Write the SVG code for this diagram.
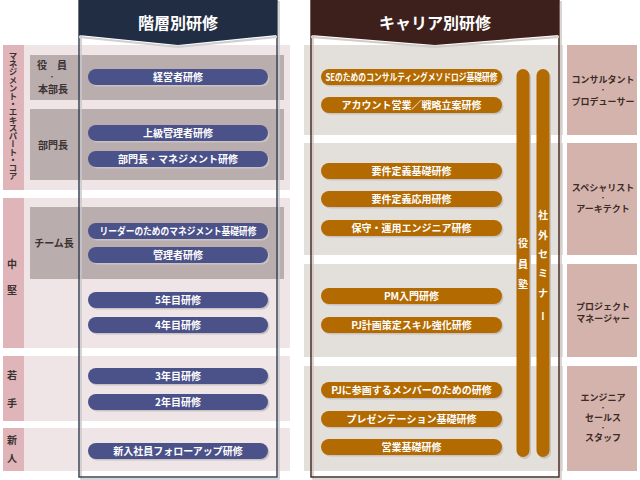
<svg xmlns="http://www.w3.org/2000/svg" width="640" height="480" viewBox="0 0 640 480">
<style>
text{font-family:"Noto Sans CJK JP","Noto Sans",sans-serif;font-weight:bold}
.lband{fill:#efe5e6}
.ltab{fill:#e0b5b9}
.inner{fill:#b9adad}
.rband{fill:#e3dfda}
.rlab{fill:#d4b3ad}
.np{fill:#4b5189}
.op{fill:#b36a00}
.sh{fill:#c9c3c3}
.pt{fill:#ffffff;font-size:10px;text-anchor:middle}
.lt{fill:#3b3232;font-size:10px;text-anchor:middle}
.rt{fill:#3d2b26;font-size:9px;text-anchor:middle}
.dot{font-size:6px}
.ht{fill:#ffffff;font-size:16px;text-anchor:middle}
</style>
<rect width="640" height="480" fill="#ffffff"/>
<g id="left-bands">
<rect class="lband" x="3" y="45" width="287" height="145"/>
<rect class="ltab" x="3" y="45" width="21" height="145"/>
<rect class="lband" x="3" y="198" width="287" height="150"/>
<rect class="ltab" x="3" y="198" width="21" height="150"/>
<rect class="lband" x="3" y="356" width="287" height="65"/>
<rect class="ltab" x="3" y="356" width="21" height="65"/>
<rect class="lband" x="3" y="428" width="287" height="43"/>
<rect class="ltab" x="3" y="428" width="21" height="43"/>
<rect class="inner" x="30" y="55" width="254" height="45"/>
<rect class="inner" x="30" y="109" width="254" height="71"/>
<rect class="inner" x="30" y="207" width="254" height="72"/>
</g>
<g id="right-bands">
<rect class="rband" x="304" y="45" width="259" height="90"/>
<rect class="rlab" x="567" y="45" width="70" height="90"/>
<rect class="rband" x="304" y="143" width="259" height="112"/>
<rect class="rlab" x="567" y="143" width="70" height="112"/>
<rect class="rband" x="304" y="264" width="259" height="93"/>
<rect class="rlab" x="567" y="264" width="70" height="93"/>
<rect class="rband" x="304" y="366" width="259" height="105"/>
<rect class="rlab" x="567" y="366" width="70" height="105"/>
</g>
<g id="frames">
<rect x="81" y="2" width="198" height="477" fill="none" stroke="#c8c8cc" stroke-width="1.5"/>
<rect x="79" y="0" width="198" height="477" fill="none" stroke="#3c4656" stroke-width="1.5"/>
<rect x="313" y="2" width="248" height="477" fill="none" stroke="#cfc9c6" stroke-width="1.5"/>
<rect x="311" y="0" width="248" height="477" fill="none" stroke="#4a2c27" stroke-width="1.5"/>
</g>
<g id="header-left">
<path d="M79,37 L178,47 L277,37" fill="none" stroke="#d0d0d4" stroke-width="2"/>
<path d="M79,0 H277 V35 L178,45 L79,35 Z" fill="#212d42"/>
<text class="ht" x="178" y="29">階層別研修</text>
</g>
<g id="header-right">
<path d="M311,37 L435,47 L559,37" fill="none" stroke="#d2ccc8" stroke-width="2"/>
<path d="M311,0 H559 V35 L435,45 L311,35 Z" fill="#3d201b"/>
<text class="ht" x="435" y="29">キャリア別研修</text>
</g>
<g id="level-labels">
<text style="fill:#3b3232;font-size:8.5px;writing-mode:tb" x="13" y="52" textLength="128" lengthAdjust="spacing">マネジメント・エキスパート・コア</text>
<text class="lt" x="12" y="268">中</text>
<text class="lt" x="12" y="294">堅</text>
<text class="lt" x="12" y="379">若</text>
<text class="lt" x="12" y="407">手</text>
<text class="lt" x="12" y="444">新</text>
<text class="lt" x="12" y="462">人</text>
<text class="lt" x="52" y="69">役　員</text>
<text class="lt dot" x="52" y="79">・</text>
<text class="lt" x="53" y="93">本部長</text>
<text class="lt" x="53" y="149">部門長</text>
<text class="lt" x="54" y="247">チーム長</text>
</g>
<g id="left-pills">
<g id="n-keiei"><rect class="sh" x="89.5" y="70.5" width="180" height="16" rx="8"/><rect class="np" x="88" y="69" width="180" height="16" rx="8"/><text class="pt" x="178" y="80.5">経営者研修</text></g>
<g id="n-joukyu"><rect class="sh" x="89.5" y="126.5" width="180" height="16" rx="8"/><rect class="np" x="88" y="125" width="180" height="16" rx="8"/><text class="pt" x="178" y="136.5">上級管理者研修</text></g>
<g id="n-bumon"><rect class="sh" x="89.5" y="152.5" width="180" height="16" rx="8"/><rect class="np" x="88" y="151" width="180" height="16" rx="8"/><text class="pt" x="178" y="162.5">部門長・マネジメント研修</text></g>
<g id="n-leader"><rect class="sh" x="89.5" y="224.5" width="180" height="16" rx="8"/><rect class="np" x="88" y="223" width="180" height="16" rx="8"/><text class="pt" x="178" y="234.5" textLength="157" lengthAdjust="spacingAndGlyphs">リーダーのためのマネジメント基礎研修</text></g>
<g id="n-kanri"><rect class="sh" x="89.5" y="248.5" width="180" height="16" rx="8"/><rect class="np" x="88" y="247" width="180" height="16" rx="8"/><text class="pt" x="178" y="258.5">管理者研修</text></g>
<g id="n-5nen"><rect class="sh" x="89.5" y="293.5" width="180" height="16" rx="8"/><rect class="np" x="88" y="292" width="180" height="16" rx="8"/><text class="pt" x="178" y="303.5">5年目研修</text></g>
<g id="n-4nen"><rect class="sh" x="89.5" y="318.5" width="180" height="16" rx="8"/><rect class="np" x="88" y="317" width="180" height="16" rx="8"/><text class="pt" x="178" y="328.5">4年目研修</text></g>
<g id="n-3nen"><rect class="sh" x="89.5" y="369.5" width="180" height="16" rx="8"/><rect class="np" x="88" y="368" width="180" height="16" rx="8"/><text class="pt" x="178" y="379.5">3年目研修</text></g>
<g id="n-2nen"><rect class="sh" x="89.5" y="395.5" width="180" height="16" rx="8"/><rect class="np" x="88" y="394" width="180" height="16" rx="8"/><text class="pt" x="178" y="405.5">2年目研修</text></g>
<g id="n-shinnyu"><rect class="sh" x="89.5" y="444.5" width="180" height="16" rx="8"/><rect class="np" x="88" y="443" width="180" height="16" rx="8"/><text class="pt" x="178" y="454.5">新入社員フォローアップ研修</text></g>
</g>
<g id="right-pills">
<g id="n-se"><rect class="sh" x="322.5" y="70.5" width="181" height="16" rx="8"/><rect class="op" x="321" y="69" width="181" height="16" rx="8"/><text class="pt" x="411.5" y="80.5" textLength="172" lengthAdjust="spacingAndGlyphs">SEのためのコンサルティングメソドロジ基礎研修</text></g>
<g id="n-account"><rect class="sh" x="322.5" y="98.5" width="181" height="16" rx="8"/><rect class="op" x="321" y="97" width="181" height="16" rx="8"/><text class="pt" x="411.5" y="108.5">アカウント営業／戦略立案研修</text></g>
<g id="n-youken1"><rect class="sh" x="322.5" y="164.5" width="181" height="16" rx="8"/><rect class="op" x="321" y="163" width="181" height="16" rx="8"/><text class="pt" x="411.5" y="174.5">要件定義基礎研修</text></g>
<g id="n-youken2"><rect class="sh" x="322.5" y="192.5" width="181" height="16" rx="8"/><rect class="op" x="321" y="191" width="181" height="16" rx="8"/><text class="pt" x="411.5" y="202.5">要件定義応用研修</text></g>
<g id="n-hoshu"><rect class="sh" x="322.5" y="221.5" width="181" height="16" rx="8"/><rect class="op" x="321" y="220" width="181" height="16" rx="8"/><text class="pt" x="411.5" y="231.5">保守・運用エンジニア研修</text></g>
<g id="n-pm"><rect class="sh" x="322.5" y="289.5" width="181" height="16" rx="8"/><rect class="op" x="321" y="288" width="181" height="16" rx="8"/><text class="pt" x="411.5" y="299.5">PM入門研修</text></g>
<g id="n-pj"><rect class="sh" x="322.5" y="318.5" width="181" height="16" rx="8"/><rect class="op" x="321" y="317" width="181" height="16" rx="8"/><text class="pt" x="411.5" y="328.5">PJ計画策定スキル強化研修</text></g>
<g id="n-pjmember"><rect class="sh" x="322.5" y="383.5" width="181" height="16" rx="8"/><rect class="op" x="321" y="382" width="181" height="16" rx="8"/><text class="pt" x="411.5" y="393.5">PJに参画するメンバーのための研修</text></g>
<g id="n-presen"><rect class="sh" x="322.5" y="412.5" width="181" height="16" rx="8"/><rect class="op" x="321" y="411" width="181" height="16" rx="8"/><text class="pt" x="411.5" y="422.5">プレゼンテーション基礎研修</text></g>
<g id="n-eigyo"><rect class="sh" x="322.5" y="440.5" width="181" height="16" rx="8"/><rect class="op" x="321" y="439" width="181" height="16" rx="8"/><text class="pt" x="411.5" y="450.5">営業基礎研修</text></g>
</g>
<g id="n-yakuinjuku">
<rect class="sh" x="518" y="71" width="13" height="388" rx="6.5"/>
<rect class="op" x="516.5" y="69" width="13" height="388" rx="6.5"/>
<text class="pt" x="523" y="247">役</text>
<text class="pt" x="523" y="268">員</text>
<text class="pt" x="523" y="288">塾</text>
</g>
<g id="n-seminar">
<rect class="sh" x="538" y="71" width="13" height="388" rx="6.5"/>
<rect class="op" x="536.5" y="69" width="13" height="388" rx="6.5"/>
<text class="pt" x="543" y="219">社</text>
<text class="pt" x="543" y="239">外</text>
<text class="pt" x="543" y="258">セ</text>
<text class="pt" x="543" y="277">ミ</text>
<text class="pt" x="543" y="297">ナ</text>
<text class="pt" x="543" y="316" style="writing-mode:tb">ー</text>
</g>
<g id="career-labels">
<text class="rt" x="603" y="83">コンサルタント</text>
<text class="rt dot" x="603" y="92">・</text>
<text class="rt" x="603" y="105">プロデューサー</text>
<text class="rt" x="603" y="191">スペシャリスト</text>
<text class="rt dot" x="603" y="200">・</text>
<text class="rt" x="603" y="212">アーキテクト</text>
<text class="rt" x="603" y="310">プロジェクト</text>
<text class="rt" x="603" y="322">マネージャー</text>
<text class="rt" x="603" y="401">エンジニア</text>
<text class="rt dot" x="603" y="410">・</text>
<text class="rt" x="603" y="421">セールス</text>
<text class="rt dot" x="603" y="430">・</text>
<text class="rt" x="603" y="441">スタッフ</text>
</g>
<g id="connectors"/>
</svg>
